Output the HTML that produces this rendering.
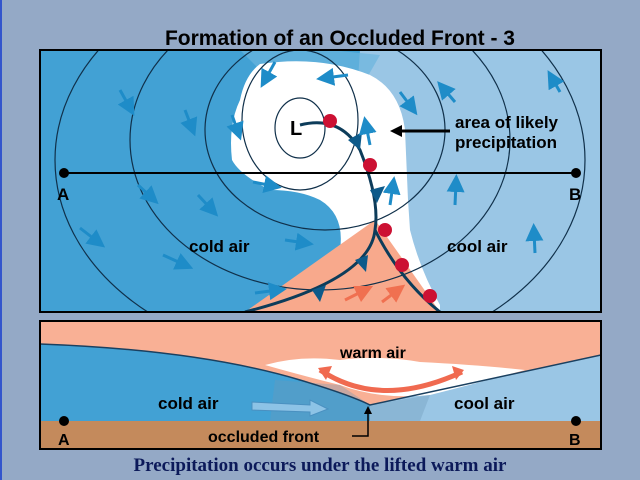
<!DOCTYPE html>
<html><head><meta charset="utf-8"><style>
html,body{margin:0;padding:0;background:#94a9c6;}
svg{display:block}
text{font-family:"Liberation Sans",sans-serif;font-weight:bold;}
</style></head><body>
<svg width="640" height="480" viewBox="0 0 640 480">
<rect x="0" y="0" width="640" height="480" fill="#94a9c6"/>
<rect x="0" y="0" width="2" height="480" fill="#3355cc"/>
<text x="340" y="45" font-size="21" text-anchor="middle" fill="#000">Formation of an Occluded Front - 3</text>
<defs><clipPath id="tc"><rect x="40" y="50" width="561" height="262"/></clipPath>
<clipPath id="bc"><rect x="40" y="321" width="561" height="128"/></clipPath>
<marker id="ar" markerWidth="6" markerHeight="6" refX="3" refY="3" orient="auto"><path d="M0,0L6,3L0,6z" fill="#1e8cc8"/></marker>
<marker id="ar2" markerWidth="6" markerHeight="6" refX="3" refY="3" orient="auto"><path d="M0,0L6,3L0,6z" fill="#f07050"/></marker></defs>
<g clip-path="url(#tc)">
<rect x="40" y="50" width="561" height="262" fill="#9ac6e5"/>
<path d="M40,50 L300,50 L360,50 L350,200 L345,312 L40,312z" fill="#42a1d4"/>
<path d="M240,50 L330,50 L380,55 L360,90 L300,110z" fill="#6bb5de" opacity="0.7"/>
<path d="M260,64 Q320,55 370,75 Q400,90 405,130 L408,200 L410,230 Q420,270 440,305 L440,312 L258,312 Q270,290 300,290 Q335,280 340,250 Q345,215 320,200 Q300,190 270,190 Q240,175 232,160 Q228,125 240,100 Q245,75 260,64z" fill="#fff"/>
<path d="M375,220 L245,312 L440,312z" fill="#f8a98c"/>
<g fill="none" stroke="#10304a" stroke-width="1.2">
<ellipse cx="300" cy="128" rx="25" ry="30"/>
<ellipse cx="300" cy="120" rx="58" ry="70"/>
<ellipse cx="325" cy="130" rx="120" ry="100"/>
<ellipse cx="320" cy="140" rx="190" ry="150"/>
<ellipse cx="320" cy="160" rx="265" ry="200"/>
</g>
<path d="M300,125 Q340,115 360,150 Q380,200 375,230 Q370,280 245,312" fill="none" stroke="#0d3c5a" stroke-width="3"/>
<path d="M375,230 Q400,280 440,312" fill="none" stroke="#0d3c5a" stroke-width="3"/>
<g fill="#0d5a8a">
<path d="M348,140 L362,132 L360,150z"/><path d="M370,190 L385,186 L377,203z"/><path d="M355,260 L368,255 L366,272z"/><path d="M312,290 L326,285 L320,302z"/></g>
<g fill="#cc1133">
<circle cx="330" cy="121" r="7"/><circle cx="370" cy="165" r="7"/><circle cx="385" cy="230" r="7"/><circle cx="402" cy="265" r="7"/><circle cx="430" cy="296" r="7"/></g>
<g stroke="#1e8cc8" stroke-width="3" marker-end="url(#ar)">
<line x1="120" y1="90" x2="130" y2="108"/><line x1="185" y1="110" x2="192" y2="128"/><line x1="232" y1="115" x2="238" y2="132"/>
<line x1="275" y1="62" x2="265" y2="80"/><line x1="348" y1="75" x2="325" y2="78"/><line x1="400" y1="92" x2="412" y2="108"/>
<line x1="455" y1="102" x2="443" y2="88"/><line x1="560" y1="92" x2="552" y2="78"/><line x1="370" y1="145" x2="366" y2="125"/>
<line x1="253" y1="182" x2="273" y2="186"/><line x1="138" y1="185" x2="152" y2="198"/><line x1="198" y1="195" x2="212" y2="210"/>
<line x1="80" y1="228" x2="98" y2="242"/><line x1="285" y1="240" x2="305" y2="243"/><line x1="163" y1="255" x2="185" y2="265"/>
<line x1="255" y1="293" x2="278" y2="290"/><line x1="390" y1="205" x2="393" y2="185"/><line x1="455" y1="205" x2="456" y2="183"/>
<line x1="535" y1="253" x2="534" y2="232"/></g>
<g stroke="#f07050" stroke-width="3" marker-end="url(#ar2)"><line x1="345" y1="300" x2="365" y2="290"/><line x1="382" y1="302" x2="398" y2="290"/></g>
</g>
<rect x="40" y="50" width="561" height="262" fill="none" stroke="#000" stroke-width="2"/>
<text x="290" y="135" font-size="20" fill="#000">L</text>
<line x1="64" y1="173" x2="576" y2="173" stroke="#000" stroke-width="2"/>
<circle cx="64" cy="173" r="5" fill="#000"/><circle cx="576" cy="173" r="5" fill="#000"/>
<text x="57" y="200" font-size="17">A</text>
<text x="569" y="200" font-size="17">B</text>
<line x1="450" y1="131" x2="398" y2="131" stroke="#000" stroke-width="3"/><path d="M390,131L402,125L402,137z" fill="#000"/>
<text x="455" y="128" font-size="17">area of likely</text>
<text x="455" y="148" font-size="17">precipitation</text>
<text x="189" y="252" font-size="17">cold air</text>
<text x="447" y="252" font-size="17">cool air</text>
<g clip-path="url(#bc)">
<rect x="40" y="321" width="561" height="128" fill="#f9b095"/>
<path d="M40,344 Q200,350 300,380 Q350,395 370,405 L370,421 L40,421z" fill="#42a1d4"/>
<path d="M370,405 L601,355 L601,421 L370,421z" fill="#9ac6e5"/>
<path d="M265,365 Q300,355 340,360 Q380,355 420,362 Q480,365 525,370 Q470,385 430,395 Q380,400 340,385 Q300,375 265,365z" fill="#fff"/>
<path d="M275,380 L340,385 L370,405 L430,395 L420,421 L270,421z" fill="#6c98b8" opacity="0.35"/>
<path d="M40,344 Q200,350 300,380 Q350,395 370,405 L601,355" fill="none" stroke="#1a4060" stroke-width="1.5"/>
<path d="M320,370 Q380,410 462,372" fill="none" stroke="#f06a50" stroke-width="5"/>
<path d="M318,368 L332,366 L326,380z M464,370 L452,366 L456,380z" fill="#f06a50"/>
<path d="M252,402 L310,405 L310,400 L328,409 L310,416 L310,412 L252,410z" fill="#8dc3e6" stroke="#4a90c0"/>
<rect x="40" y="421" width="561" height="28" fill="#c48a5c"/>
</g>
<rect x="40" y="321" width="561" height="128" fill="none" stroke="#000" stroke-width="2"/>
<text x="340" y="358" font-size="16">warm air</text>
<text x="158" y="409" font-size="17">cold air</text>
<text x="454" y="409" font-size="17">cool air</text>
<text x="208" y="442" font-size="16">occluded front</text>
<path d="M352,436 L368,436 L368,412" fill="none" stroke="#000" stroke-width="1.5"/><path d="M364,414L368,406L372,414z" fill="#000"/>
<circle cx="64" cy="421" r="5" fill="#000"/><circle cx="576" cy="421" r="5" fill="#000"/>
<text x="58" y="445" font-size="16">A</text>
<text x="569" y="445" font-size="16">B</text>
<text x="320" y="471" font-size="19" text-anchor="middle" fill="#0c1a5a" style="font-family:'Liberation Serif',serif;font-weight:bold">Precipitation occurs under the lifted warm air</text>
</svg>
</body></html>
